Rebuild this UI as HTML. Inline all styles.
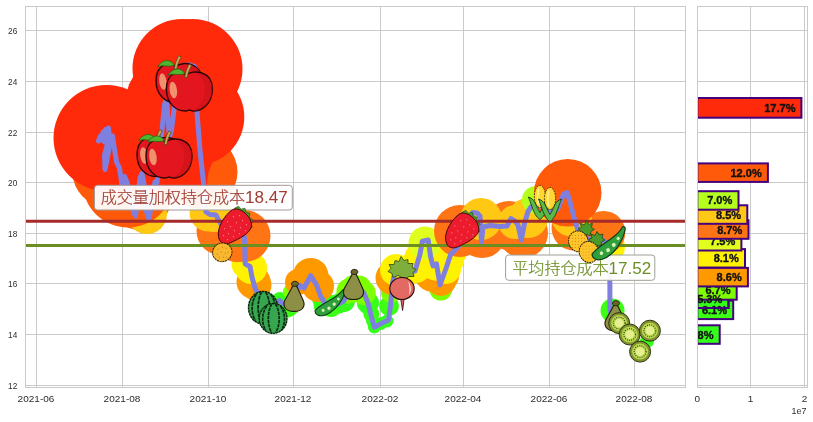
<!DOCTYPE html>
<html lang="zh"><head><meta charset="utf-8"><title>chart</title>
<style>html,body{margin:0;padding:0;background:#fff;}svg{display:block}.tk{font-family:"Liberation Sans","Noto Sans CJK SC",sans-serif;font-size:9.6px;fill:#2a2a2a}.pc{font-family:"Liberation Sans","Noto Sans CJK SC",sans-serif;font-size:11px;font-weight:bold;fill:#111;stroke:#111;stroke-width:0.35px}.an{font-family:"Liberation Sans","Noto Sans CJK SC",sans-serif;font-size:16px;font-weight:300}</style></head><body>
<svg width="813" height="422" viewBox="0 0 813 422">
<defs>
<clipPath id="cm"><rect x="25.5" y="6.5" width="660.0" height="381.0"/></clipPath>
<clipPath id="cb"><rect x="697.5" y="6.5" width="110.0" height="381.0"/></clipPath>
</defs>
<rect width="813" height="422" fill="#fff"/>
<path d="M25.5 385.5H685.5M697.5 385.5H807.5M25.5 334.5H685.5M697.5 334.5H807.5M25.5 283.5H685.5M697.5 283.5H807.5M25.5 233.5H685.5M697.5 233.5H807.5M25.5 182.5H685.5M697.5 182.5H807.5M25.5 132.5H685.5M697.5 132.5H807.5M25.5 81.5H685.5M697.5 81.5H807.5M25.5 30.5H685.5M697.5 30.5H807.5M36.5 6.5V387.5M122.5 6.5V387.5M208.5 6.5V387.5M293.5 6.5V387.5M380.5 6.5V387.5M463.5 6.5V387.5M549.5 6.5V387.5M634.5 6.5V387.5M750.5 6.5V387.5M804.5 6.5V387.5" stroke="#cacaca" stroke-width="1" fill="none"/>
<g clip-path="url(#cm)">
<g fill="#33ff1a"><circle cx="374.3" cy="327" r="6.5"/><circle cx="381" cy="323.5" r="6.5"/><circle cx="387" cy="321" r="6.5"/><circle cx="372.5" cy="321" r="6.5"/><circle cx="647" cy="341" r="7"/></g>
<g fill="#3dff14"><circle cx="270" cy="306" r="9"/><circle cx="287" cy="305" r="12.5"/><circle cx="331" cy="306" r="11"/><circle cx="338" cy="304" r="10"/><circle cx="371.3" cy="314" r="8"/><circle cx="389" cy="306" r="10"/><circle cx="612.5" cy="310.5" r="12"/></g>
<g fill="#33ff1a"><circle cx="262" cy="300" r="9"/><circle cx="280" cy="300" r="8"/><circle cx="321" cy="299" r="9"/><circle cx="323" cy="305" r="9.5"/><circle cx="326" cy="303" r="10"/><circle cx="344" cy="301" r="11"/><circle cx="368" cy="303" r="11"/></g>
<g fill="#7dff00"><circle cx="257.5" cy="292.5" r="9"/><circle cx="292" cy="292" r="9"/><circle cx="349" cy="291" r="12.5"/><circle cx="354" cy="287.5" r="12.5"/><circle cx="359" cy="288" r="12.5"/><circle cx="363.8" cy="293" r="12"/><circle cx="391" cy="293" r="10"/><circle cx="440.8" cy="289" r="11.5"/></g>
<g fill="#ff9900"><circle cx="253.5" cy="282" r="17"/><circle cx="256" cy="285" r="15.5"/><circle cx="298" cy="282" r="13"/><circle cx="310.7" cy="275.7" r="17.8"/><circle cx="318" cy="286" r="16"/><circle cx="392.5" cy="278" r="17"/><circle cx="433.5" cy="272" r="20"/><circle cx="441" cy="281" r="15"/><circle cx="445" cy="276" r="14"/></g>
<g fill="#fff200"><circle cx="246" cy="264" r="14.5"/><circle cx="251" cy="268" r="16"/><circle cx="396" cy="270" r="16"/><circle cx="408" cy="271" r="14.5"/><circle cx="416" cy="268" r="15"/><circle cx="419" cy="258" r="15"/><circle cx="431" cy="258" r="14"/><circle cx="434" cy="265" r="15"/><circle cx="437" cy="266" r="15"/><circle cx="446" cy="269" r="15"/><circle cx="449" cy="260" r="15"/><circle cx="453" cy="252" r="14"/><circle cx="609" cy="247" r="16"/></g>
<g fill="#e1ff1e"><circle cx="425" cy="243" r="16.5"/></g>
<g fill="#ff7414"><circle cx="140" cy="199" r="31"/><circle cx="220.5" cy="231" r="24"/><circle cx="244.5" cy="236" r="26"/><circle cx="237" cy="241" r="21"/><circle cx="460" cy="231" r="26"/><circle cx="482" cy="234" r="24"/><circle cx="495" cy="227" r="18"/><circle cx="509" cy="225.5" r="24.5"/><circle cx="523" cy="233" r="25"/><circle cx="574" cy="228" r="22.5"/><circle cx="603.5" cy="232.7" r="21.8"/></g>
<g fill="#ffc814"><circle cx="147" cy="214" r="20"/><circle cx="208" cy="213" r="18.5"/><circle cx="214" cy="214" r="18"/><circle cx="481" cy="219" r="21"/><circle cx="515" cy="222" r="17"/><circle cx="528" cy="218" r="20"/><circle cx="571.5" cy="216" r="20.5"/></g>
<g fill="#b4ff1e"><circle cx="536" cy="200" r="14"/></g>
<g fill="#ff5a0a"><circle cx="107" cy="172" r="34.5"/><circle cx="128" cy="182" r="45.5"/><circle cx="201" cy="172" r="36.5"/><circle cx="567.7" cy="192.8" r="33.8"/></g>
<g fill="#ff2a0a"><path d="M150,120 L231.8,149.5 L224.9,155 L217.9,158.4 L212.9,161.4 L209.9,167.9 L207.9,174.9 L206.9,183.8 L206.5,192 L110,192 L110,150 Z"/><circle cx="106.5" cy="138" r="53"/><circle cx="182" cy="68.5" r="49.5"/><circle cx="192.5" cy="69" r="50"/><circle cx="196" cy="117" r="48.3"/><circle cx="163" cy="120" r="45"/><circle cx="167" cy="100" r="41"/><circle cx="150" cy="140" r="45"/></g>
<polyline points="98.5,141 100.5,136 102,140 103,132 104.5,142 105.5,129.5 107,141 108.5,128 109.5,140 107,146 104.5,155 105,169.5 107.5,157 109.5,146 111,138 112.5,136 114,146 116.5,162 119.5,168 121,178 122,185 124.5,176.5 127,182 129,195 132,208 135.5,216 138,195 140,178 142,173.5 144,184 146.5,212 149,219 152,200 155,182 157,183 159,160 162,130 164.5,105 166.5,98 168,120 169.5,137 171.5,130 174.5,106 177,80 180,66.5 185,65.2 190,65 194.5,66.5 196,85 196.8,110 200,150 203.3,181 205,200 206,212 210,214.5 216,215 218.5,220 222,226 230,224 238,227 243,232 244.5,238 245.2,264 250,266.5 252.2,278 255.2,288.5 257.3,292.5 262,300 270,306 279.5,300.3 283,303.5 288,306 294,298 299.9,285.2 304,288 310.7,275.7 316.6,285 320.7,296.5 325,303 330,306 338,304 344,300.7 349,291 354,287 359,288 363.8,293 368,303 371.3,316.4 374.3,327.2 381,323.5 388.5,320 390.6,305 392.5,283 395,272 400,268 408,272 415,271 420,254.3 422.3,241.2 428.2,240 430.6,256.7 433,266 436.5,263.8 440,285 446,268.5 450.7,254.3 454.3,250.7 460,245 466,235 470,222 472.5,212.5 477,213 480,216 481.5,242 483,227 490,225.5 500,226.5 507,226 511,218.5 515,221 518,225 521.3,240 524.6,223 528,211.5 531,207 536,204 545,208 552,212 557.7,209 563.6,194 567.2,192.5 570.7,204.5 574.3,218.7 578,230 585,238 592,240 598,236 602,239.5 605,242 608,250 609.8,270 610,311" fill="none" stroke="#7f7fe0" stroke-width="5" stroke-linejoin="round" stroke-linecap="round"/>
<path d="M25.5 221.3H685.3" stroke="#a52a2a" stroke-width="3"/>
<path d="M25.5 245.4H685.3" stroke="#6b8e23" stroke-width="3"/>
</g>
<rect x="94.5" y="185.3" width="197.8" height="24.7" rx="3" ry="3" fill="#fff" fill-opacity="0.94" stroke="#a39a98" stroke-width="1"/>
<rect x="505.6" y="255" width="149.2" height="25.3" rx="3" ry="3" fill="#fff" fill-opacity="0.94" stroke="#9ea096" stroke-width="1"/>
<g opacity=".99"><text class="an" transform="translate(100.7,203.4) scale(1.003,1)" fill="#a0392f" stroke="#a0392f" stroke-width="0.22">成交量加权持仓成本<tspan font-size="17px" stroke="none">18.47</tspan></text><text class="an" transform="translate(512.3,273.6) scale(1.003,1)" fill="#6b8e23" stroke="#6b8e23" stroke-width="0.22">平均持仓成本<tspan font-size="17px" stroke="none">17.52</tspan></text></g>
<defs>
<g id="apple"><path d="M19.5,11 C27,5 46,7 46,25 C46,40 35,47 27,47 C25,47 24,46 23,46 C22,46 21,47 19,47 C10,47 0,40 0,25 C0,9 13,5 19.5,11 Z" fill="#e3161f" stroke="#2a0505" stroke-width="1.4"/><path d="M30,9 C38,10 46,14 46,25 C46,40 35,47 27,47 C34,42 40,34 38,22 C37.5,16 34,12 30,9Z" fill="#c80f18" opacity="0.5"/><ellipse cx="6.9" cy="26" rx="3.7" ry="8.3" transform="rotate(-8 6.9 26)" fill="#f0906c"/><path d="M18.2,13.5 C19,8 20.5,4 22.6,0.2 L25.4,1.2 C23,5 21.6,9 20.8,13.5 Z" fill="#c9a55c" stroke="#5a3a10" stroke-width="0.7"/><path d="M18.5,9.8 C15,3.2 7,3 1.5,11 C7,9 12,11.8 18.5,9.8 Z" fill="#4fb52e" stroke="#245a10" stroke-width="0.7"/></g>
<g id="straw"><path d="M17,0.5 L21,-1.5 L23.5,1.5 L27.5,0.5 L28.5,4.5 L32.5,5.5 L31.5,9.5 L35.5,12.5 L32.5,15.5 L34.8,19.5 L30,21 L16,4 Z" fill="#4c9e2c" stroke="#1f4a10" stroke-width="0.6"/><path d="M15,2 C8,6 -1,20 1,29 C2,36 8,37.5 13,35 C22,31 32,26 34,19 C35,12 28,4 22,2 C19,1 17,1 15,2 Z" fill="#ec1c2e" stroke="#4a0808" stroke-width="1"/><g fill="#ff8c96"><circle cx="10" cy="14" r=".6"/><circle cx="16" cy="9" r=".6"/><circle cx="22" cy="8" r=".6"/><circle cx="7" cy="21" r=".6"/><circle cx="13" cy="19" r=".6"/><circle cx="19" cy="15" r=".6"/><circle cx="25" cy="13" r=".6"/><circle cx="6" cy="28" r=".6"/><circle cx="11" cy="26" r=".6"/><circle cx="17" cy="23" r=".6"/><circle cx="23" cy="20" r=".6"/><circle cx="29" cy="17" r=".6"/><circle cx="10" cy="32" r=".6"/><circle cx="16" cy="29" r=".6"/><circle cx="22" cy="26" r=".6"/><circle cx="28" cy="23" r=".6"/></g></g>
<g id="tang"><ellipse cx="0" cy="0" rx="9.8" ry="9.3" transform="rotate(-25)" fill="#f8b830" stroke="#3a2800" stroke-width="1" stroke-dasharray="2.2 0.6"/><g fill="#e08a12"><circle cx="-4" cy="-3" r=".7"/><circle cx="0" cy="-5" r=".7"/><circle cx="4" cy="-4" r=".7"/><circle cx="-5" cy="2" r=".7"/><circle cx="-1" cy="0" r=".7"/><circle cx="3" cy="1" r=".7"/><circle cx="6" cy="0" r=".7"/><circle cx="-3" cy="5" r=".7"/><circle cx="1" cy="5" r=".7"/><circle cx="4" cy="5" r=".7"/></g></g>
<g id="melon"><ellipse cx="0" cy="0" rx="14.3" ry="15.8" fill="#38a64e" stroke="#0a200a" stroke-width="1.4" stroke-dasharray="2.5 0.5"/><g fill="none" stroke="#082a10" stroke-width="1.7" stroke-dasharray="3.5 0.8"><path d="M-1.5,-15 C-6,-8 -6,8 -1.5,15"/><path d="M2.5,-15 C7.5,-8 7.5,8 2.5,15"/><path d="M-6.5,-13 C-12,-6 -12,6 -7.5,12.5"/><path d="M7.5,-13 C13,-6 13,6 8.5,12.5"/></g></g>
<g id="pear"><path d="M10.5,3.5 C12,3.5 13,5 14,7.5 L19.2,19 C21.5,24.5 19,30 10,30 C1,30 -1.5,24.5 0.8,19 L7.2,7.5 C8.2,5 9,3.5 10.5,3.5Z" fill="#8d8f46" stroke="#1c1c08" stroke-width="1.1"/><path d="M7.5,3.4 C7.2,0.6 9.5,-0.6 12,0 C14.6,0.6 15,2.8 13.5,4.2 C11.5,5.4 8.5,5.2 7.5,3.4Z" fill="#6c6428" stroke="#1c1c08" stroke-width="0.9"/></g>
<g id="peas"><g transform="rotate(-35)"><path d="M-20,-1.5 C-22.5,2.5 -19.5,7 -14,8.5 C-4,11 10,7 20.5,-3 C22,-5.5 20,-6.8 18,-5.6 C8,-0.5 -8,-5.5 -20,-1.5Z" fill="#2fa03c" stroke="#0c3a12" stroke-width="1.1"/><g fill="#d9f2b4"><circle cx="-12" cy="3" r="1.7"/><circle cx="-5" cy="4.2" r="1.9"/><circle cx="2.5" cy="3.2" r="1.9"/><circle cx="9.5" cy="0.6" r="1.6"/></g></g></g>
<g id="radish"><path d="M0,-11 L-4,-13 L-9,-11 L-10,-15 L-14,-17 L-11,-20 L-13,-24 L-8,-24 L-7,-28 L-3,-27 L-1,-32 L2,-28 L6,-29 L6,-25 L11,-25 L10,-21 L14,-19 L11,-16 L12,-12 L7,-12 L4,-10 Z" fill="#7fae3e" stroke="#2c4a12" stroke-width="0.8"/><path d="M-1.2,11 L0.6,22 L2,11Z" fill="#e0655f" stroke="#2a0a0a" stroke-width="0.8"/><ellipse cx="0" cy="0" rx="12.2" ry="11" fill="#e26a62" stroke="#2a0a0a" stroke-width="1.1"/><path d="M6,-7 C9.5,-3 9.5,3 7,6.5 C8,2 8,-3 6,-7Z" fill="#fff"/></g>
<g id="corn"><ellipse cx="11.5" cy="11" rx="5.6" ry="11" fill="#ffd730" stroke="#2a2000" stroke-width="0.9" stroke-dasharray="1.6 1.2"/><path d="M10,3 C9,8 9,14 10,19" stroke="#fff0a0" stroke-width="1.6" fill="none"/><path d="M0,11.5 C3,12.5 5,14 6.5,17 C8.5,21 10,25 11.5,27 C13,25 14.5,21 16.5,17 C18,14 20,12.5 23,11.5 C21.5,15 21,17 19.5,21 C17.5,27 15,32 11.5,34 C8,32 5.5,27 3.5,21 C2,17 1.5,15 0,11.5Z" fill="#5db84a" stroke="#14400c" stroke-width="0.9"/></g>
<g id="pine"><path d="M2,-9 L0,-13 L3,-14 L2,-18 L6,-16.5 L8,-20.5 L10.5,-17 L14,-18 L13,-14 L16,-12 L12.5,-10 L12,-6 L6,-7Z" fill="#4a9a2c" stroke="#1c4a10" stroke-width="0.8"/><ellipse cx="0" cy="0" rx="9.7" ry="10.6" transform="rotate(-20)" fill="#ffc62c" stroke="#2a1c00" stroke-width="1" stroke-dasharray="1.8 0.7"/><g fill="#d48a10"><circle cx="-6" cy="-6" r=".55"/><circle cx="-6" cy="-3" r=".55"/><circle cx="-6" cy="0" r=".55"/><circle cx="-6" cy="3" r=".55"/><circle cx="-6" cy="6" r=".55"/><circle cx="-3" cy="-6" r=".55"/><circle cx="-3" cy="-3" r=".55"/><circle cx="-3" cy="0" r=".55"/><circle cx="-3" cy="3" r=".55"/><circle cx="-3" cy="6" r=".55"/><circle cx="0" cy="-6" r=".55"/><circle cx="0" cy="-3" r=".55"/><circle cx="0" cy="0" r=".55"/><circle cx="0" cy="3" r=".55"/><circle cx="0" cy="6" r=".55"/><circle cx="3" cy="-6" r=".55"/><circle cx="3" cy="-3" r=".55"/><circle cx="3" cy="0" r=".55"/><circle cx="3" cy="3" r=".55"/><circle cx="3" cy="6" r=".55"/><circle cx="6" cy="-6" r=".55"/><circle cx="6" cy="-3" r=".55"/><circle cx="6" cy="0" r=".55"/><circle cx="6" cy="3" r=".55"/><circle cx="6" cy="6" r=".55"/></g></g>
<g id="kiwi"><circle r="10.5" fill="#82922e" stroke="#2c3410" stroke-width="1"/><circle r="8" fill="#b9d850"/><circle r="5.9" fill="none" stroke="#283010" stroke-width="1.2" stroke-dasharray="0.8 1.4"/><circle r="4.4" fill="#e6f090"/></g>
</defs>
<use href="#apple" x="137" y="129.5" />
<use href="#apple" x="146" y="131" />
<use href="#apple" x="156" y="55.6" />
<use href="#apple" x="166.4" y="64" />
<use href="#straw" x="217.5" y="207.7" />
<use href="#tang" x="222.3" y="252.3" />
<use href="#melon" transform="translate(263.1,307.7) scale(1.02,1.03)"/>
<use href="#melon" transform="translate(273.1,318.4) scale(0.97,0.945)"/>
<use href="#pear" x="284" y="281.4" />
<use href="#peas" transform="translate(330.9,302.8) rotate(5) scale(0.88)"/>
<use href="#pear" x="343.5" y="269.5" />
<use href="#radish" x="402" y="288.5" />
<use href="#straw" x="444.8" y="211.8" />
<use href="#corn" x="528.4" y="185.5" />
<use href="#corn" x="538.5" y="187.5" />
<use href="#pine" x="578.4" y="241.4" />
<use href="#pine" x="589" y="252" />
<use href="#peas" transform="translate(609.8,243.6) scale(1.03)"/>
<use href="#pear" x="605" y="300.8" />
<use href="#kiwi" x="619.2" y="323.1" />
<use href="#kiwi" x="629.7" y="334.5" />
<use href="#kiwi" x="649.9" y="330.7" />
<use href="#kiwi" x="640.1" y="351.6" />
<g clip-path="url(#cb)">
<rect x="697.3" y="325.3" width="22.4" height="18.5" fill="#33ff1a" stroke="#45007e" stroke-width="2"/>
<text class="pc" transform="translate(713.5,338.6) scale(1.003,1)" text-anchor="end">3.8%</text>
<rect x="697.3" y="300.6" width="35.9" height="18.5" fill="#3dff14" stroke="#45007e" stroke-width="2"/>
<rect x="697.3" y="289.5" width="31.2" height="18.5" fill="#33ff1a" stroke="#45007e" stroke-width="2"/>
<text class="pc" transform="translate(727.0,313.9) scale(1.003,1)" text-anchor="end">6.1%</text>
<rect x="697.3" y="289.5" width="31.2" height="18.5" fill="none" stroke="#45007e" stroke-width="2"/>
<rect x="697.3" y="281.2" width="39.4" height="18.5" fill="#7dff00" stroke="#45007e" stroke-width="2"/>
<text class="pc" transform="translate(730.5,294.4) scale(1.003,1)" text-anchor="end">6.7%</text>
<text class="pc" transform="translate(722.3,302.8) scale(1.003,1)" text-anchor="end">5.3%</text>
<rect x="697.3" y="249.1" width="47.7" height="18.5" fill="#fff200" stroke="#45007e" stroke-width="2"/>
<text class="pc" transform="translate(738.8,262.4) scale(1.003,1)" text-anchor="end">8.1%</text>
<rect x="697.3" y="267.9" width="50.6" height="18.5" fill="#ff9900" stroke="#45007e" stroke-width="2"/>
<text class="pc" transform="translate(741.7,281.1) scale(1.003,1)" text-anchor="end">8.6%</text>
<rect x="697.3" y="232.0" width="44.1" height="18.5" fill="#e1ff1e" stroke="#45007e" stroke-width="2"/>
<text class="pc" transform="translate(735.2,245.2) scale(1.003,1)" text-anchor="end">7.5%</text>
<rect x="697.3" y="220.3" width="51.2" height="18.5" fill="#ff7414" stroke="#45007e" stroke-width="2"/>
<text class="pc" transform="translate(742.3,233.6) scale(1.003,1)" text-anchor="end">8.7%</text>
<rect x="697.3" y="205.3" width="50.0" height="18.5" fill="#ffc814" stroke="#45007e" stroke-width="2"/>
<text class="pc" transform="translate(741.1,218.6) scale(1.003,1)" text-anchor="end">8.5%</text>
<rect x="697.3" y="191.2" width="41.2" height="18.5" fill="#b4ff1e" stroke="#45007e" stroke-width="2"/>
<text class="pc" transform="translate(732.3,204.4) scale(1.003,1)" text-anchor="end">7.0%</text>
<rect x="697.3" y="163.4" width="70.6" height="18.5" fill="#ff5a0a" stroke="#45007e" stroke-width="2"/>
<text class="pc" transform="translate(761.7,176.7) scale(1.003,1)" text-anchor="end">12.0%</text>
<rect x="697.3" y="98.0" width="104.1" height="19.7" fill="#ff2a0a" stroke="#45007e" stroke-width="2"/>
<text class="pc" transform="translate(795.2,111.8) scale(1.003,1)" text-anchor="end">17.7%</text>
</g>
<rect x="25.5" y="6.5" width="660.0" height="381.0" fill="none" stroke="#cacaca" stroke-width="1"/>
<rect x="697.5" y="6.5" width="110.0" height="381.0" fill="none" stroke="#cacaca" stroke-width="1"/>
<g opacity="0.99">
<text class="tk" transform="translate(17.3,389.4) scale(0.86,1)" text-anchor="end">12</text>
<text class="tk" transform="translate(17.3,338.4) scale(0.86,1)" text-anchor="end">14</text>
<text class="tk" transform="translate(17.3,287.4) scale(0.86,1)" text-anchor="end">16</text>
<text class="tk" transform="translate(17.3,237.4) scale(0.86,1)" text-anchor="end">18</text>
<text class="tk" transform="translate(17.3,186.4) scale(0.86,1)" text-anchor="end">20</text>
<text class="tk" transform="translate(17.3,136.4) scale(0.86,1)" text-anchor="end">22</text>
<text class="tk" transform="translate(17.3,85.4) scale(0.86,1)" text-anchor="end">24</text>
<text class="tk" transform="translate(17.3,34.4) scale(0.86,1)" text-anchor="end">26</text>
<text class="tk" transform="translate(36.0,401.5) scale(1.045,1)" text-anchor="middle">2021-06</text>
<text class="tk" transform="translate(122.0,401.5) scale(1.045,1)" text-anchor="middle">2021-08</text>
<text class="tk" transform="translate(208.0,401.5) scale(1.045,1)" text-anchor="middle">2021-10</text>
<text class="tk" transform="translate(293.0,401.5) scale(1.045,1)" text-anchor="middle">2021-12</text>
<text class="tk" transform="translate(380.0,401.5) scale(1.045,1)" text-anchor="middle">2022-02</text>
<text class="tk" transform="translate(463.0,401.5) scale(1.045,1)" text-anchor="middle">2022-04</text>
<text class="tk" transform="translate(549.0,401.5) scale(1.045,1)" text-anchor="middle">2022-06</text>
<text class="tk" transform="translate(634.0,401.5) scale(1.045,1)" text-anchor="middle">2022-08</text>
<text class="tk" transform="translate(697.3,401.5) scale(1.045,1)" text-anchor="middle">0</text>
<text class="tk" transform="translate(750.5,401.5) scale(1.045,1)" text-anchor="middle">1</text>
<text class="tk" transform="translate(804.5,401.5) scale(1.045,1)" text-anchor="middle">2</text>
<text class="tk" transform="translate(806.5,413.8) scale(0.93,1)" text-anchor="end">1e7</text>
</g>
</svg></body></html>
